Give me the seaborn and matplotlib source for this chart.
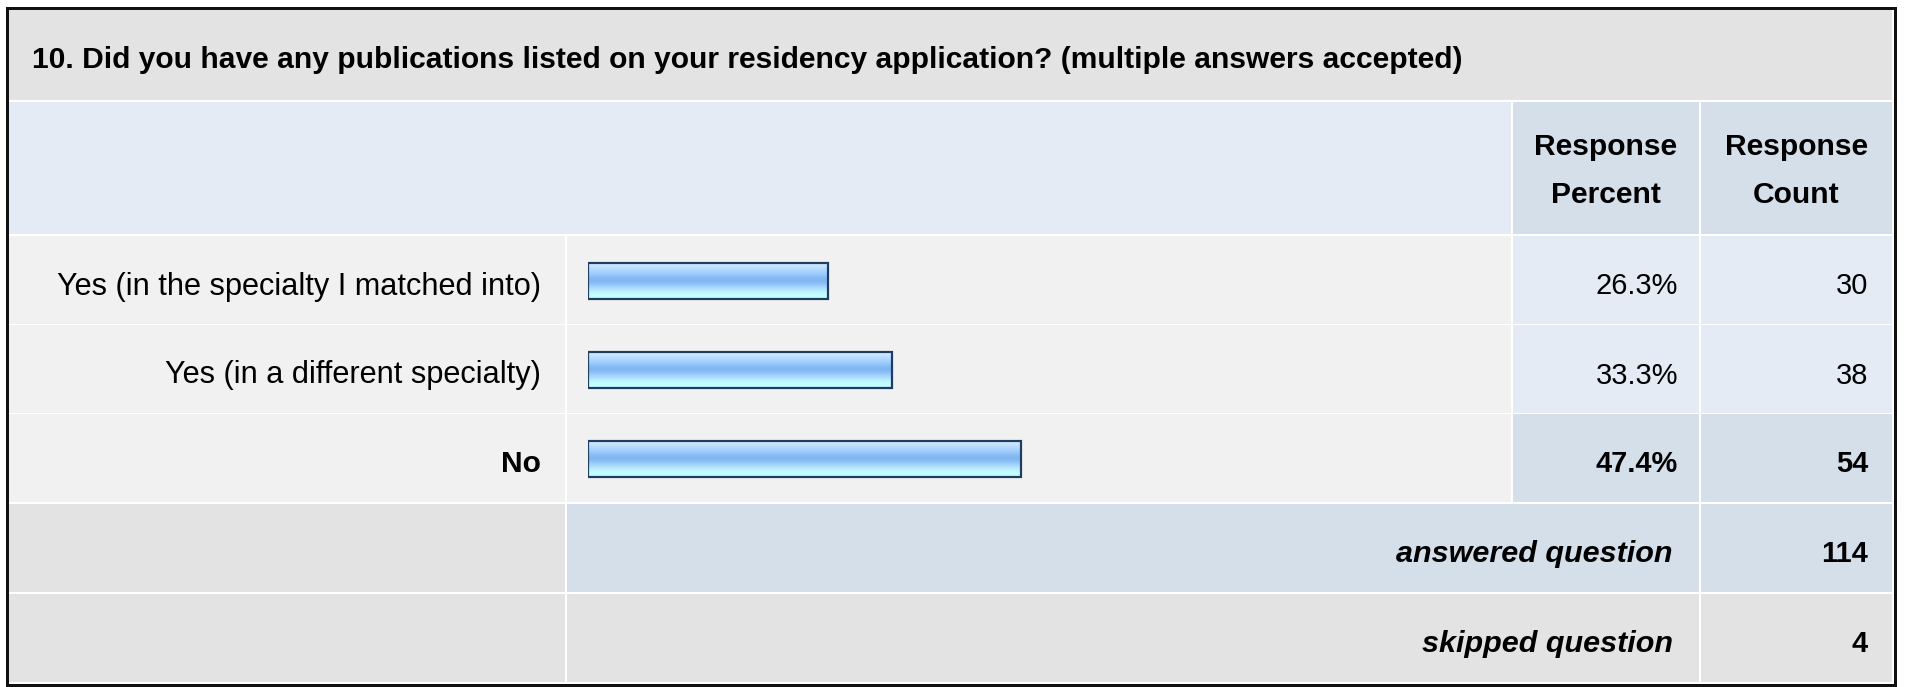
import numpy as np
import matplotlib
matplotlib.use("Agg")
import matplotlib.pyplot as plt
from matplotlib.patches import Rectangle
from matplotlib.colors import to_rgb
import pandas as pd
import seaborn as sns

# ---- survey data -------------------------------------------------------
question = ("10. Did you have any publications listed on your residency "
            "application? (multiple answers accepted)")
answer_choices = ["Yes (in the specialty I matched into)",
                  "Yes (in a different specialty)",
                  "No"]
response_percent = [26.3, 33.3, 47.4]
response_count = [30, 38, 54]
answered_question = 114
skipped_question = 4
column_headers = [["Response", "Percent"], ["Response", "Count"]]

# ---- figure setup ------------------------------------------------------
W, H, DPI = 1907, 687, 100
sns.set_style("white")
plt.rcParams["font.family"] = ["Liberation Sans", "DejaVu Sans"]

fig = plt.figure(figsize=(W / DPI, H / DPI), dpi=DPI)
fig.patch.set_facecolor("white")

# background axes in pixel units for the table grid
bg = fig.add_axes([0, 0, 1, 1])
bg.set_xlim(0, W)
bg.set_ylim(H, 0)
bg.axis("off")


def pt(px):
    return px * 72 / DPI


GRAY = "#e3e3e3"
LIGHT = "#f1f1f1"
BLUE = "#e4ebf5"
BLUE2 = "#d5dfe9"
INK = "#000000"
FS_LABEL = pt(30.8)
FS_NUM = pt(29)
FS_BOLD = pt(30)

# column and row extents (pixels)
c_label = (9, 565)
c_bar = (567, 1511)
c_pct = (1513, 1699)
c_cnt = (1701, 1892)
r_title = (10, 100)
r_head = (102, 234)
r_data = [(236, 324), (325, 413), (414, 502)]
r_ans = (504, 592)
r_skip = (594, 682)


def cell(cx, ry, color):
    bg.add_patch(Rectangle((cx[0], ry[0]), cx[1] - cx[0], ry[1] - ry[0],
                           facecolor=color, edgecolor="none", zorder=1))


def mid(r):
    return (r[0] + r[1]) / 2


def base(r):
    # text baseline inside a row
    return mid(r) + 14.5


top_idx = int(np.argmax(response_percent))

# title row
cell((c_label[0], c_cnt[1]), r_title, GRAY)
bg.text(32, 68, question, ha="left", va="baseline",
        fontsize=FS_BOLD, fontweight="bold", color=INK, zorder=3)

# header row
cell((c_label[0], c_bar[1]), r_head, BLUE)
cell(c_pct, r_head, BLUE2)
cell(c_cnt, r_head, BLUE2)
for cx, lines in zip([c_pct, c_cnt], column_headers):
    for yb, word in zip([155, 203], lines):
        bg.text(mid(cx), yb, word, ha="center", va="baseline",
                fontsize=FS_BOLD, fontweight="bold", color=INK, zorder=3)

# answer rows
for i, (ry, lab, p, n) in enumerate(zip(r_data, answer_choices,
                                         response_percent, response_count)):
    hi = i == top_idx
    cell(c_label, ry, LIGHT)
    cell(c_bar, ry, LIGHT)
    cell(c_pct, ry, BLUE2 if hi else BLUE)
    cell(c_cnt, ry, BLUE2 if hi else BLUE)
    w = "bold" if hi else "normal"
    bg.text(541, base(ry), lab, ha="right", va="baseline",
            fontsize=FS_BOLD if hi else FS_LABEL, fontweight=w, color=INK,
            zorder=3)
    bg.text(1678, base(ry), f"{p:.1f}%", ha="right", va="baseline",
            fontsize=FS_NUM, fontweight=w, color=INK, zorder=3)
    bg.text(1868, base(ry), f"{n}", ha="right", va="baseline",
            fontsize=FS_NUM, fontweight=w, color=INK, zorder=3)

# summary rows
cell(c_label, r_ans, GRAY)
cell((c_bar[0], c_pct[1]), r_ans, BLUE2)
cell(c_cnt, r_ans, BLUE2)
cell(c_label, r_skip, GRAY)
cell((c_bar[0], c_pct[1]), r_skip, GRAY)
cell(c_cnt, r_skip, GRAY)
for ry, lab, n in [(r_ans, "answered question", answered_question),
                   (r_skip, "skipped question", skipped_question)]:
    bg.text(1673, base(ry), lab, ha="right", va="baseline",
            fontsize=pt(30.5), fontweight="bold", fontstyle="italic",
            color=INK, zorder=3)
    bg.text(1868, base(ry), f"{n}", ha="right", va="baseline",
            fontsize=FS_NUM, fontweight="bold", color=INK, zorder=3)

# outer frame
bg.add_patch(Rectangle((6.5, 7.5), 1888, 677.5, facecolor="none",
                       edgecolor="#111111", linewidth=pt(3), zorder=4))

# ---- bar chart ---------------------------------------------------------
x0_px, x100_px = 588, 1501
y_top_px, y_bot_px = 236.5, 503.5
bx = fig.add_axes([x0_px / W, 1 - y_bot_px / H,
                   (x100_px - x0_px) / W, (y_bot_px - y_top_px) / H])
bx.patch.set_alpha(0)

df = pd.DataFrame({"choice": answer_choices, "percent": response_percent})
sns.barplot(data=df, x="percent", y="choice", orient="h", ax=bx,
            width=0.405, color="#a8d4ff", edgecolor="#1f3d63",
            linewidth=pt(2.2), saturation=1)

# glossy vertical gradient inside each bar
stripes = ["#d8eeff", "#c6e4ff", "#b4dbff", "#a6d2ff", "#98c8fb",
           "#86bbf3", "#80b6f0", "#8cc0f6", "#a0d0ff", "#b2e2ff",
           "#bff3ff", "#c2fdff", "#c0ffff"]
grad = np.array([to_rgb(c) for c in stripes])[:, None, :]
for p in bx.patches:
    x, y, w, h = p.get_x(), p.get_y(), p.get_width(), p.get_height()
    bx.imshow(grad, extent=[x, x + w, y + h, y], origin="upper",
              aspect="auto", interpolation="bilinear", zorder=2)
    p.set_facecolor("none")
    p.set_zorder(3)

bx.set_xlim(0, 100)
bx.set_ylim(2.5, -0.5)
bx.axis("off")

fig.savefig("out.png", dpi=DPI, facecolor="white")
